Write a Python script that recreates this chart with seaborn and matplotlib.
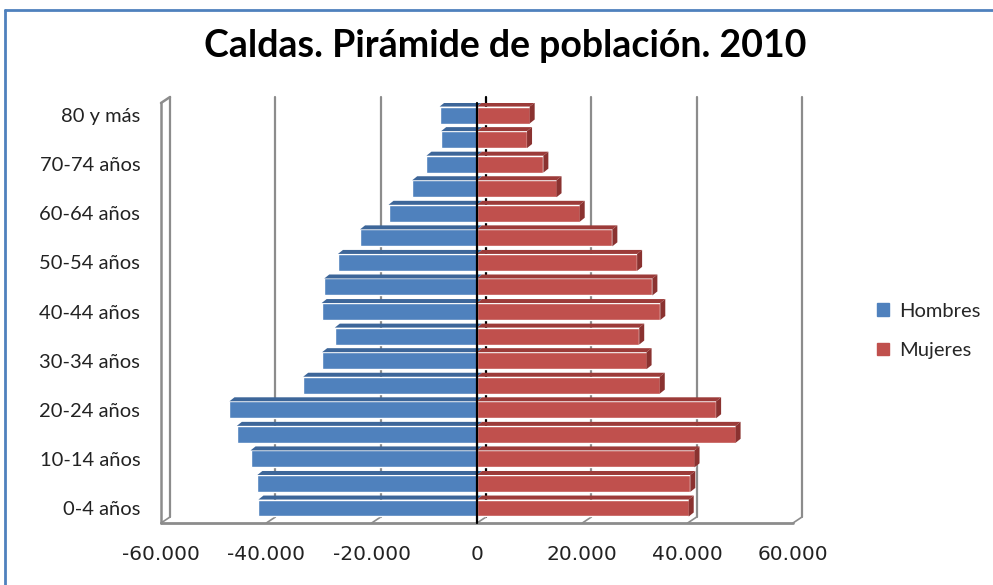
import pandas as pd
import matplotlib.pyplot as plt
import seaborn as sns
from matplotlib.patches import Polygon
from matplotlib.lines import Line2D
from matplotlib.ticker import FuncFormatter

# ---------------------------------------------------------
# Data
# ---------------------------------------------------------
age_groups = [
    "80 y más", "75-79 años", "70-74 años", "65-69 años", "60-64 años",
    "55-59 años", "50-54 años", "45-49 años", "40-44 años", "35-39 años",
    "30-34 años", "25-29 años", "20-24 años", "15-19 años", "10-14 años",
    "5-9 años", "0-4 años",
]
hombres = [7100, 6800, 9600, 12300, 16800, 22200, 26400, 29000, 29500, 27000,
           29400, 33000, 47000, 45600, 43000, 41700, 41500]
mujeres = [10000, 9500, 12600, 15100, 19500, 25700, 30400, 33300, 34800, 30800,
           32200, 34700, 45400, 49100, 41300, 40500, 40200]
x_ticks = [-60000, -40000, -20000, 0, 20000, 40000, 60000]

df = pd.concat([
    pd.DataFrame({"edad": age_groups, "sexo": "Hombres", "valor": [-v for v in hombres]}),
    pd.DataFrame({"edad": age_groups, "sexo": "Mujeres", "valor": mujeres}),
])

colors = {"Hombres": "#4F81BD", "Mujeres": "#C0504D"}
top_colors = {"Hombres": "#3D6699", "Mujeres": "#9C3B39"}
side_color = "#8A3230"

# ---------------------------------------------------------
# Figure / axes
# ---------------------------------------------------------
sns.set_theme(style="white")
W, H = 993, 585
fig = plt.figure(figsize=(W / 100, H / 100), dpi=100)
ax_l, ax_r, ax_t, ax_b = 161, 793, 103, 523
ax = fig.add_axes([ax_l / W, (H - ax_b) / H, (ax_r - ax_l) / W, (ax_b - ax_t) / H])

sns.barplot(data=df, y="edad", x="valor", hue="sexo", order=age_groups,
            orient="h", dodge=False, palette=colors, width=0.69,
            saturation=1, ax=ax, zorder=3, legend=False)

ax.set_xlim(-60000, 60000)
ax.set_ylim(16.61, -0.49)

# pixel -> data conversion for the fake 3D depth
px_x = 120000 / (ax_r - ax_l)
px_y = (16.61 + 0.49) / (ax_b - ax_t)

# chart walls (depth ~9px right, 6px up)
wdx, wdy = 9 * px_x, 6 * px_y
y0, y1 = 16.61, -0.49
grid_c = "#8C8C8C"
for xv in x_ticks:
    c = "black" if xv == 0 else grid_c
    ax.plot([xv + wdx, xv + wdx], [y0 - wdy, y1 - wdy], color=c, lw=1.6, zorder=1, clip_on=False)
    ax.plot([xv, xv + wdx], [y0, y0 - wdy], color=grid_c, lw=1.2, zorder=1, clip_on=False)
# left wall
ax.plot([-60000, -60000], [y0, y1], color=grid_c, lw=1.8, zorder=1, clip_on=False)
ax.plot([-60000, -60000 + wdx], [y1, y1 - wdy], color=grid_c, lw=1.8, zorder=1, clip_on=False)
# floor front edge
ax.plot([-60000, 60000], [y0, y0], color=grid_c, lw=2, zorder=1, clip_on=False)

# bars 3D faces
bdx, bdy = 5 * px_x, 4 * px_y
for bar, sexo in zip(ax.patches, ["Hombres"] * 17 + ["Mujeres"] * 17):
    x0 = bar.get_x()
    x1 = x0 + bar.get_width()
    yt = bar.get_y()
    yb = yt + bar.get_height()
    xa, xb = min(x0, x1), max(x0, x1)
    ax.add_patch(Polygon([(xa, yt), (xb, yt), (xb + bdx, yt - bdy), (xa + bdx, yt - bdy)],
                         closed=True, facecolor=top_colors[sexo], edgecolor="none", zorder=3))
    if sexo == "Mujeres":
        ax.add_patch(Polygon([(xb, yt), (xb, yb), (xb + bdx, yb - bdy), (xb + bdx, yt - bdy)],
                             closed=True, facecolor=side_color, edgecolor="none", zorder=3))

# front zero axis
ax.plot([0, 0], [y0, y1], color="black", lw=1.6, zorder=5, clip_on=False)

for s in ax.spines.values():
    s.set_visible(False)

# ---------------------------------------------------------
# Ticks and labels
# ---------------------------------------------------------
ax.set_xticks(x_ticks)
ax.xaxis.set_major_formatter(FuncFormatter(lambda v, p: f"{int(v):,}".replace(",", ".")))
ax.set_yticks(range(0, 17, 2))
ax.set_yticklabels(age_groups[::2])
ax.tick_params(axis="x", length=0, pad=16, labelsize=14.5, labelcolor="#222222")
ax.tick_params(axis="y", length=0, pad=15, labelsize=14.5, labelcolor="#222222")
for t in ax.get_xticklabels():
    t.set_fontfamily(["DejaVu Sans"])
for t in ax.get_yticklabels():
    t.set_fontfamily(["Lato", "DejaVu Sans"])
ax.set_xlabel("")
ax.set_ylabel("")

fig.text(505 / W, 1 - 46 / H, "Caldas. Pirámide de población. 2010",
         ha="center", va="center", fontsize=27, fontweight="bold",
         family=["Lato", "DejaVu Sans"], color="black")

handles = [plt.Rectangle((0, 0), 1, 1, color=colors[k]) for k in ["Hombres", "Mujeres"]]
leg = fig.legend(handles, ["Hombres", "Mujeres"], loc="center left",
                 bbox_to_anchor=(859 / W, 1 - 331 / H), frameon=False,
                 handlelength=0.6, handleheight=0.6, handletextpad=0.5,
                 labelspacing=1.1, prop={"family": ["Lato", "DejaVu Sans"], "size": 14.5})

# outer border of the chart area
fig.add_artist(Line2D([5 / W, 5 / W], [0, 1 - 10 / H], color="#4F81BD", lw=2))
fig.add_artist(Line2D([5 / W, 1], [1 - 10 / H, 1 - 10 / H], color="#4F81BD", lw=2))

plt.savefig("out.png", dpi=100)
